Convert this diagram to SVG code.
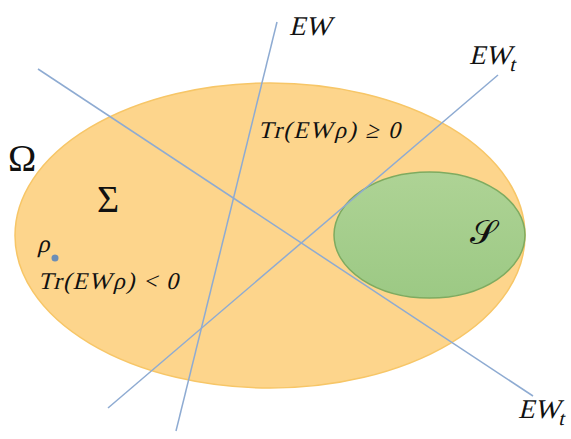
<svg xmlns="http://www.w3.org/2000/svg" width="571" height="439" viewBox="0 0 571 439">
<defs>
<linearGradient id="gg" x1="0" y1="0" x2="0" y2="1">
<stop offset="0" stop-color="#AED395"/>
<stop offset="1" stop-color="#9CC984"/>
</linearGradient>
</defs>
<style>
.t{font-family:"Liberation Serif","DejaVu Serif",serif;fill:#111;}
.u{font-family:"Liberation Serif","DejaVu Serif",serif;fill:#111;}
.ln{stroke:#8EABD2;stroke-width:1.5;fill:none;}
</style>
<rect width="571" height="439" fill="#fff"/>
<g id="omega-set">
<ellipse cx="270" cy="235.5" rx="255" ry="152.5" fill="#FDD58C" stroke="#F7C667" stroke-width="1.5"/>
</g>
<g id="separable-set">
<ellipse cx="429.5" cy="235" rx="95.5" ry="63" fill="url(#gg)" stroke="#7EAB60" stroke-width="1.5"/>
</g>
<g id="connectors">
<line class="ln" x1="277" y1="22" x2="176" y2="431"/>
<line class="ln" x1="498" y1="75" x2="108" y2="408"/>
<line class="ln" x1="38" y1="69" x2="533" y2="396"/>
</g>
<g id="labels">
<text class="u" x="8" y="171" font-size="38">Ω</text>
<text class="u" x="97" y="212" font-size="38">Σ</text>
<text class="t" transform="translate(37,252) skewX(-14)" font-size="25">ρ</text>
<circle cx="55" cy="258" r="3.5" fill="#6C8EB6"/>
<text class="t" transform="translate(38,289) skewX(-14)" font-size="24" textLength="140" lengthAdjust="spacing">Tr(EWρ) &lt; 0</text>
<text class="t" transform="translate(258,138) skewX(-14)" font-size="24" textLength="142" lengthAdjust="spacing">Tr(EWρ) ≥ 0</text>
<text class="t" transform="translate(289,35) skewX(-14)" font-size="27">EW</text>
<text class="t" transform="translate(469,64) skewX(-14)" font-size="27">EW<tspan dy="7" font-size="20">t</tspan></text>
<text class="t" transform="translate(518,418) skewX(-14)" font-size="27">EW<tspan dy="7" font-size="20">t</tspan></text>
<text class="t" x="470" y="244" font-size="34">𝒮</text>
</g>
</svg>
